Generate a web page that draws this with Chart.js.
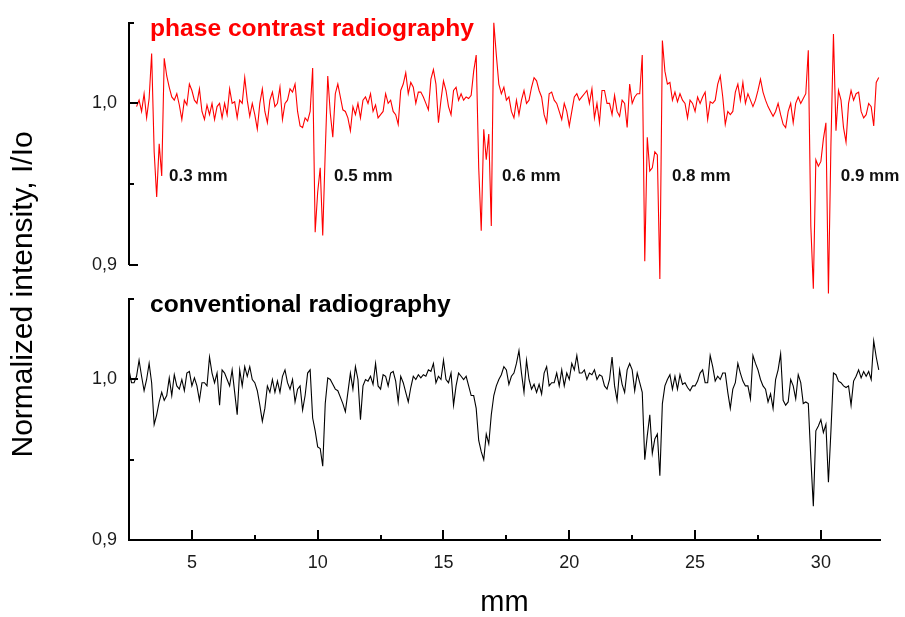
<!DOCTYPE html>
<html>
<head>
<meta charset="utf-8">
<title>Phase contrast vs conventional radiography</title>
<script src="https://cdn.jsdelivr.net/npm/chart.js@4"></script>
<style>
  html, body { margin: 0; padding: 0; background: #fff; }
</style>
</head>
<body>
<canvas id="myChart" width="905" height="617"></canvas>
<script>
// scan positions along the sample, mm
const scanMm = [
  2.5, 2.6, 2.7, 2.8, 2.9, 3.0, 3.1, 3.2, 3.3, 3.4, 3.5, 3.6, 3.7, 3.8, 3.9,
  4.0, 4.1, 4.2, 4.3, 4.4, 4.5, 4.6, 4.7, 4.8, 4.9,
  5.0, 5.1, 5.2, 5.3, 5.4, 5.5, 5.6, 5.7, 5.8, 5.9,
  6.0, 6.1, 6.2, 6.3, 6.4, 6.5, 6.6, 6.7, 6.8, 6.9,
  7.0, 7.1, 7.2, 7.3, 7.4, 7.5, 7.6, 7.7, 7.8, 7.9,
  8.0, 8.1, 8.2, 8.3, 8.4, 8.5, 8.6, 8.7, 8.8, 8.9,
  9.0, 9.1, 9.2, 9.3, 9.4, 9.5, 9.6, 9.7, 9.8, 9.9,
  10.0, 10.1, 10.2, 10.3, 10.4, 10.5, 10.6, 10.7, 10.8, 10.9,
  11.0, 11.1, 11.2, 11.3, 11.4, 11.5, 11.6, 11.7, 11.8, 11.9,
  12.0, 12.1, 12.2, 12.3, 12.4, 12.5, 12.6, 12.7, 12.8, 12.9,
  13.0, 13.1, 13.2, 13.3, 13.4, 13.5, 13.6, 13.7, 13.8, 13.9,
  14.0, 14.1, 14.2, 14.3, 14.4, 14.5, 14.6, 14.7, 14.8, 14.9,
  15.0, 15.1, 15.2, 15.3, 15.4, 15.5, 15.6, 15.7, 15.8, 15.9,
  16.0, 16.1, 16.2, 16.3, 16.4, 16.5, 16.6, 16.7, 16.8, 16.9,
  17.0, 17.1, 17.2, 17.3, 17.4, 17.5, 17.6, 17.7, 17.8, 17.9,
  18.0, 18.1, 18.2, 18.3, 18.4, 18.5, 18.6, 18.7, 18.8, 18.9,
  19.0, 19.1, 19.2, 19.3, 19.4, 19.5, 19.6, 19.7, 19.8, 19.9,
  20.0, 20.1, 20.2, 20.3, 20.4, 20.5, 20.6, 20.7, 20.8, 20.9,
  21.0, 21.1, 21.2, 21.3, 21.4, 21.5, 21.6, 21.7, 21.8, 21.9,
  22.0, 22.1, 22.2, 22.3, 22.4, 22.5, 22.6, 22.7, 22.8, 22.9,
  23.0, 23.1, 23.2, 23.3, 23.4, 23.5, 23.6, 23.7, 23.8, 23.9,
  24.0, 24.1, 24.2, 24.3, 24.4, 24.5, 24.6, 24.7, 24.8, 24.9,
  25.0, 25.1, 25.2, 25.3, 25.4, 25.5, 25.6, 25.7, 25.8, 25.9,
  26.0, 26.1, 26.2, 26.3, 26.4, 26.5, 26.6, 26.7, 26.8, 26.9,
  27.0, 27.1, 27.2, 27.3, 27.4, 27.5, 27.6, 27.7, 27.8, 27.9,
  28.0, 28.1, 28.2, 28.3, 28.4, 28.5, 28.6, 28.7, 28.8, 28.9,
  29.0, 29.1, 29.2, 29.3, 29.4, 29.5, 29.6, 29.7, 29.8, 29.9,
  30.0, 30.1, 30.2, 30.3, 30.4, 30.5, 30.6, 30.7, 30.8, 30.9,
  31.0, 31.1, 31.2, 31.3, 31.4, 31.5, 31.6, 31.7, 31.8, 31.9,
  32.0, 32.1, 32.2, 32.3
];

// I/Io, phase contrast profile (red)
const phaseProfile = [
  null, null, null, 0.998, 1.002, 0.995, 1.006, 0.991, 1.003, 1.031, 0.970, 0.942, 0.975, 0.955, 1.028,
  1.017, 1.010, 1.004, 1.002, 1.006, 0.999, 0.990, 1.002, 0.999, 1.012,
  1.008, 1.002, 1.000, 1.009, 0.995, 0.990, 0.999, 0.993, 1.000, 0.990,
  0.998, 1.000, 0.991, 1.000, 0.993, 1.009, 1.000, 1.001, 0.991, 1.002,
  1.000, 1.016, 1.002, 0.992, 1.000, 0.993, 0.984, 1.000, 1.009, 0.995,
  0.988, 1.002, 1.007, 0.998, 1.000, 1.010, 0.990, 1.000, 1.002, 1.009,
  1.007, 1.012, 0.995, 0.986, 0.985, 0.991, 0.989, 0.995, 1.022, 0.920,
  0.945, 0.960, 0.918, 0.970, 1.017, 0.994, 0.979, 1.006, 1.012, 1.004,
  0.996, 0.995, 0.991, 0.983, 0.998, 0.993, 1.000, 0.991, 1.002, 1.004,
  1.000, 1.006, 0.995, 0.999, 0.991, 0.993, 0.995, 1.006, 1.000, 1.002,
  0.995, 0.993, 0.987, 1.008, 1.012, 1.019, 1.006, 1.013, 1.010, 1.000,
  1.007, 1.007, 1.004, 1.000, 0.996, 1.015, 1.021, 1.012, 0.988, 1.002,
  1.014, 1.008, 0.998, 0.993, 1.008, 1.010, 1.002, 1.006, 1.002, 1.004,
  1.003, 1.005, 1.020, 1.030, 0.960, 0.921, 0.984, 0.965, 0.981, 0.924,
  1.050, 1.030, 1.012, 1.006, 1.010, 1.002, 1.004, 0.995, 0.991, 1.002,
  0.993, 1.002, 1.008, 1.000, 1.002, 1.010, 1.016, 1.014, 1.008, 1.004,
  0.993, 0.988, 1.006, 1.007, 1.002, 1.000, 0.995, 0.990, 1.000, 0.995,
  0.986, 0.995, 1.004, 1.006, 1.002, 1.004, 1.006, 1.008, 1.000, 1.009,
  0.991, 1.000, 0.988, 1.008, 1.008, 1.000, 1.000, 0.993, 1.005, 0.995,
  0.992, 1.002, 1.000, 0.985, 1.012, 1.000, 1.004, 1.006, 1.006, 1.030,
  0.902, 0.979, 0.958, 0.960, 0.970, 0.968, 0.891, 1.039, 1.020, 1.012,
  1.013, 1.002, 1.007, 1.001, 1.006, 1.002, 1.000, 0.991, 1.002, 1.000,
  0.995, 1.004, 1.000, 1.004, 1.007, 0.990, 1.001, 1.000, 1.002, 1.012,
  1.017, 1.004, 0.987, 0.995, 0.993, 0.995, 1.007, 1.012, 1.002, 1.013,
  1.000, 1.006, 1.002, 0.998, 1.002, 1.008, 1.015, 1.007, 1.002, 0.998,
  0.995, 0.992, 0.995, 1.000, 0.993, 0.987, 0.985, 0.995, 1.000, 0.988,
  1.000, 1.004, 1.000, 1.003, 1.006, 1.033, 0.924, 0.885, 0.965, 0.961,
  0.964, 0.978, 0.988, 0.882, 0.975, 1.043, 0.983, 1.008, 1.002, 0.985,
  0.976, 1.000, 1.008, 1.002, 1.006, 1.007, 0.995, 0.991, 0.993, 1.000,
  0.998, 0.986, 1.013, 1.016
];

// I/Io, conventional absorption profile (black)
const conventionalProfile = [
  1.006, 0.998, 0.998, 1.002, 1.012, 1.002, 0.993, 1.000, 1.010, 0.998, 0.972, 0.978, 0.986, 0.992, 0.987,
  0.990, 1.001, 0.990, 1.003, 0.996, 0.994, 1.000, 0.993, 1.004, 1.005,
  0.996, 1.001, 0.996, 0.987, 0.998, 0.998, 0.996, 1.014, 1.004, 0.998,
  1.004, 0.984, 1.006, 1.004, 1.000, 0.996, 1.006, 0.992, 0.978, 1.006,
  0.996, 1.008, 1.002, 1.008, 1.000, 0.998, 0.993, 0.984, 0.974, 0.982,
  0.996, 0.992, 1.000, 0.992, 0.999, 0.992, 1.002, 1.006, 0.998, 0.994,
  1.000, 0.986, 0.994, 0.996, 0.981, 0.990, 1.004, 1.006, 0.976, 0.968,
  0.958, 0.957, 0.946, 0.985, 1.001, 1.000, 0.997, 0.994, 0.993, 0.989,
  0.985, 0.980, 0.992, 1.004, 0.994, 1.008, 1.000, 0.975, 0.996, 1.000,
  0.999, 1.002, 0.997, 1.010, 0.996, 0.994, 1.003, 1.002, 0.996, 1.004,
  1.005, 0.999, 0.986, 1.002, 0.998, 0.992, 0.986, 0.995, 1.002, 1.000,
  1.003, 1.001, 1.003, 1.002, 1.006, 1.005, 1.010, 0.998, 1.002, 1.000,
  1.012, 1.000, 0.998, 1.004, 0.984, 0.996, 1.004, 1.002, 1.000, 1.002,
  0.996, 0.990, 0.990, 0.982, 0.962, 0.955, 0.950, 0.966, 0.960, 0.978,
  0.990, 0.996, 1.000, 1.003, 1.008, 1.006, 0.997, 1.002, 1.004, 1.010,
  1.018, 1.004, 0.992, 1.012, 1.000, 0.994, 0.997, 0.992, 0.997, 0.991,
  1.004, 1.008, 0.996, 0.998, 0.998, 1.004, 0.996, 1.006, 0.996, 1.004,
  1.000, 1.010, 1.006, 1.015, 1.004, 1.004, 1.006, 1.000, 1.004, 1.003,
  1.006, 1.000, 1.003, 1.002, 0.996, 0.994, 1.000, 1.014, 0.996, 0.987,
  1.006, 0.997, 0.992, 1.006, 1.010, 1.006, 0.993, 1.004, 0.998, 0.992,
  0.950, 0.965, 0.978, 0.954, 0.963, 0.966, 0.940, 0.985, 0.996, 1.000,
  1.003, 0.994, 1.002, 0.994, 1.003, 0.997, 0.998, 0.995, 0.993, 0.996,
  0.996, 0.999, 1.004, 1.006, 0.998, 0.998, 1.015, 1.008, 0.999, 1.002,
  1.000, 1.004, 1.004, 0.992, 0.982, 0.994, 0.998, 1.010, 1.004, 0.999,
  0.996, 0.996, 0.988, 1.015, 1.010, 1.006, 1.000, 0.996, 0.994, 0.986,
  0.991, 0.982, 1.000, 1.006, 1.016, 0.987, 0.984, 0.986, 1.000, 0.996,
  0.988, 1.003, 0.998, 0.985, 0.986, 0.985, 0.951, 0.921, 0.968, 0.971,
  0.975, 0.967, 0.972, 0.936, 0.968, 1.004, 1.003, 0.999, 0.998, 0.996,
  0.995, 0.996, 0.984, 0.999, 1.002, 1.006, 1.001, 1.005, 1.002, 1.005,
  1.000, 1.024, 1.014, 1.006
];

const panelTitles = ['phase contrast radiography', 'conventional radiography'];
const yTitle = 'Normalized intensity, I/Io';
const holeLabels = ['0.3 mm', '0.5 mm', '0.6 mm', '0.8 mm', '0.9 mm'];
const holeLabelMm = [4.09, 10.65, 17.33, 24.08, 30.79];
const holeLabelLevel = 0.952;

const xTicks = [5, 7.5, 10, 12.5, 15, 17.5, 20, 22.5, 25, 27.5, 30];
const yTicks = [0.9, 0.95, 1.0, 1.05];
const yMajor = [0.9, 1.0];
const yMajorText = ['0,9', '1,0'];

const FONT = 'Arial, "Liberation Sans", sans-serif';
Chart.defaults.font.family = FONT;
Chart.defaults.color = '#000';

function majorIndex(v) {
  return yMajor.findIndex(m => Math.abs(m - v) < 1e-9);
}

function yScale(weight) {
  return {
    type: 'linear',
    position: 'left',
    stack: 'panels',
    stackWeight: weight,
    min: 0.9,
    max: 1.05,
    grid: { display: false, drawTicks: false },
    border: { display: true, color: '#000', width: 2 },
    afterBuildTicks: s => { s.ticks = yTicks.map(v => ({ value: v })); },
    ticks: {
      padding: 12,
      color: '#1a1a1a',
      font: { size: 18 },
      autoSkip: false,
      callback: v => {
        const i = majorIndex(v);
        return i >= 0 ? yMajorText[i] : '';
      }
    },
    afterFit: s => { s.width = 129; }
  };
}

// inward tick marks, panel headings, axis title and hole diameters
const panelMarks = {
  id: 'panelMarks',
  afterDraw(chart) {
    const { ctx, chartArea, scales } = chart;
    const xs = scales.x;
    ctx.save();
    ctx.strokeStyle = '#000';
    ctx.lineWidth = 2;
    ctx.beginPath();
    xs.ticks.forEach(t => {
      const px = Math.round(xs.getPixelForValue(t.value));
      const len = Number.isInteger(t.value) ? 10 : 5;
      ctx.moveTo(px, xs.top);
      ctx.lineTo(px, xs.top - len);
    });
    ['yTop', 'yBot'].forEach(id => {
      const s = scales[id];
      s.ticks.forEach(t => {
        const py = Math.round(s.getPixelForValue(t.value));
        const len = majorIndex(t.value) >= 0 ? 9 : 5;
        ctx.moveTo(s.right, py);
        ctx.lineTo(s.right + len, py);
      });
    });
    ctx.stroke();

    ctx.textBaseline = 'alphabetic';
    ctx.textAlign = 'left';
    ctx.font = 'bold 24.6px ' + FONT;
    ctx.fillStyle = '#ff0000';
    ctx.fillText(panelTitles[0], chartArea.left + 21, scales.yTop.top + 13);
    ctx.fillStyle = '#000';
    ctx.fillText(panelTitles[1], chartArea.left + 21, scales.yBot.top + 13);

    ctx.font = 'bold 17px ' + FONT;
    ctx.fillStyle = '#111';
    holeLabels.forEach((txt, i) => {
      ctx.fillText(txt, xs.getPixelForValue(holeLabelMm[i]), scales.yTop.getPixelForValue(holeLabelLevel));
    });

    // shared y title, centred a little below the panel gap
    const gap = scales.yGap;
    ctx.translate(gap.left + 23.5, (chartArea.top + chartArea.bottom) / 2 + 13);
    ctx.rotate(-Math.PI / 2);
    ctx.textAlign = 'center';
    ctx.textBaseline = 'middle';
    ctx.font = '30px ' + FONT;
    ctx.fillStyle = '#000';
    ctx.fillText(yTitle, 0, 0);
    ctx.restore();
  }
};

const ctx = document.getElementById('myChart');

new Chart(ctx, {
  type: 'line',
  data: {
    datasets: [
      {
        label: panelTitles[0],
        data: phaseProfile.map((v, i) => ({ x: scanMm[i], y: v })),
        yAxisID: 'yTop',
        borderColor: '#ff0000',
        borderWidth: 1.1,
        pointRadius: 0,
        tension: 0,
        clip: false
      },
      {
        label: panelTitles[1],
        data: conventionalProfile.map((v, i) => ({ x: scanMm[i], y: v })),
        yAxisID: 'yBot',
        borderColor: '#000',
        borderWidth: 1.1,
        pointRadius: 0,
        tension: 0,
        clip: false
      }
    ]
  },
  options: {
    responsive: false,
    animation: false,
    events: [],
    layout: { padding: { left: 0, right: 25, top: 18, bottom: 0 } },
    plugins: {
      legend: { display: false },
      tooltip: { enabled: false }
    },
    scales: {
      x: {
        type: 'linear',
        min: 2.5,
        max: 32.35,
        grid: { display: false, drawTicks: false },
        border: { display: true, color: '#000', width: 2 },
        afterBuildTicks: s => { s.ticks = xTicks.map(v => ({ value: v })); },
        ticks: {
          padding: 12,
          color: '#1a1a1a',
          font: { size: 18 },
          autoSkip: false,
          maxRotation: 0,
          callback: v => Number.isInteger(v) ? String(v) : ''
        },
        title: {
          display: true,
          text: 'mm',
          color: '#000',
          font: { size: 29 },
          padding: { top: 0, bottom: -3 }
        },
        afterFit: s => { s.height = 77; }
      },
      yBot: yScale(243),
      // empty spacer between the two panels
      yGap: {
        type: 'linear',
        position: 'left',
        stack: 'panels',
        stackWeight: 35,
        grid: { display: false, drawTicks: false },
        border: { display: false },
        ticks: { display: false },
        afterFit: s => { s.width = 129; }
      },
      yTop: yScale(244)
    }
  },
  plugins: [panelMarks]
});
</script>
</body>
</html>
